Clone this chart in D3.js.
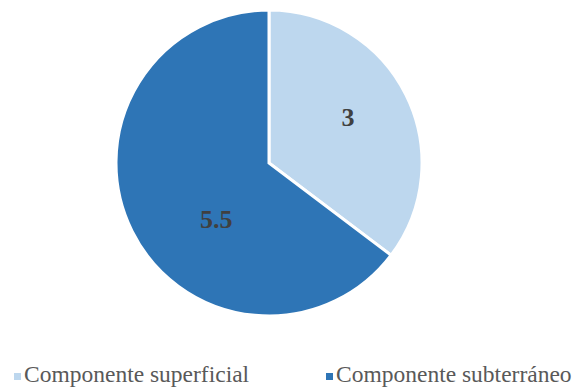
<html>
<head>
<meta charset="utf-8">
<style>
  body { margin: 0; background: #fff; }
</style>
</head>
<body>
<div id="chart"></div>
<script src="https://d3js.org/d3.v7.min.js"></script>
<script>
var categories = ["Componente superficial", "Componente subterráneo"];
var values = [3, 5.5];
var labels = ["3", "5.5"];
var colors = ["#BDD7EE", "#2E75B6"];

var width = 577, height = 390;
var cx = 269, cy = 163, radius = 153;
var serif = "'Liberation Serif', 'Times New Roman', serif";

var svg = d3.select("#chart").append("svg")
    .attr("width", width)
    .attr("height", height);

var data = categories.map(function (c, i) { return { name: c, value: values[i], label: labels[i], color: colors[i] }; });

var pie = d3.pie().sort(null).value(function (d) { return d.value; });
var arc = d3.arc().innerRadius(0).outerRadius(radius);

var g = svg.append("g").attr("transform", "translate(" + cx + "," + cy + ")");

g.selectAll("path")
    .data(pie(data))
    .enter()
    .append("path")
    .attr("d", arc)
    .attr("fill", function (d) { return d.data.color; })
    .attr("stroke", "#fff")
    .attr("stroke-width", 3);

// label placement: small slice near its middle, big slice nudged toward lower left
function labelPos(d, i) {
    var a = (d.startAngle + d.endAngle) / 2;
    var r = radius * 0.6;
    if (i === 0) { a = a - 0.07; }
    if (i === 1) { a = a - 0.35; r = radius * 0.5; }
    return [r * Math.sin(a), -r * Math.cos(a)];
}

g.selectAll("text")
    .data(pie(data))
    .enter()
    .append("text")
    .attr("transform", function (d, i) { return "translate(" + labelPos(d, i) + ")"; })
    .attr("text-anchor", "middle")
    .attr("dy", "0.35em")
    .style("font-family", serif)
    .style("font-weight", "bold")
    .style("font-size", "26px")
    .style("fill", "#404040")
    .text(function (d) { return d.data.label; });

// legend
var legendX = [14, 326];
var legend = svg.selectAll(".legend")
    .data(data)
    .enter()
    .append("g")
    .attr("class", "legend")
    .attr("transform", function (d, i) { return "translate(" + legendX[i] + ",373)"; });

legend.append("rect")
    .attr("width", 7)
    .attr("height", 7)
    .attr("fill", function (d) { return d.color; });

legend.append("text")
    .attr("x", 10)
    .attr("y", 9)
    .style("font-family", serif)
    .style("font-size", "23.5px")
    .style("fill", "#595959")
    .text(function (d) { return d.name; });
</script>
</body>
</html>
